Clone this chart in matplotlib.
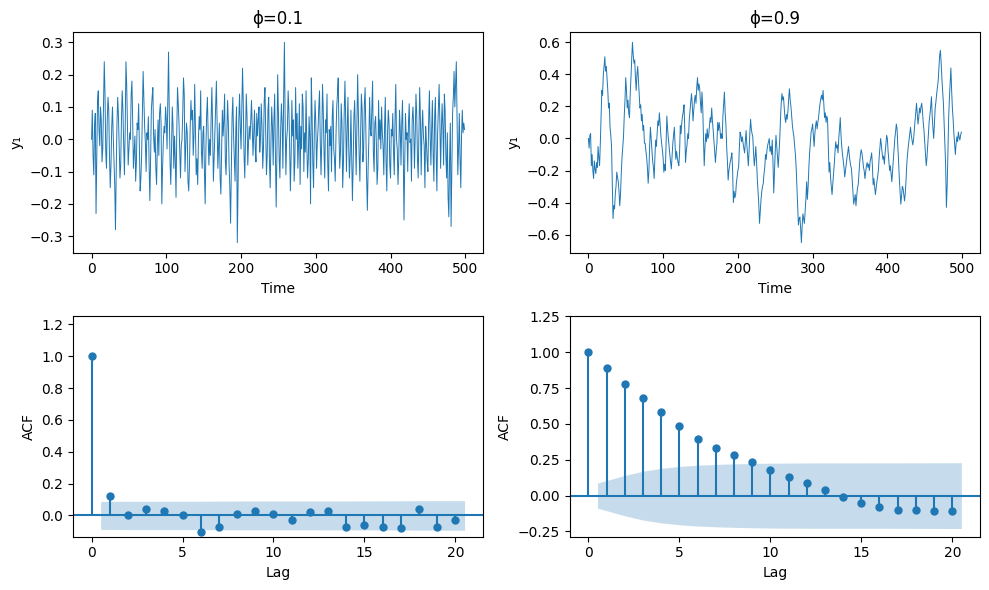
import matplotlib
matplotlib.use("Agg")
import matplotlib.pyplot as plt
import numpy as np

# simulated AR(1) paths, values in hundredths
y_phi01 = [
    0, 9, -5, -11, 4, 8, -23, -6, 12, 15,
    3, -2, 10, 6, -7, -3, 11, 24, 14, -4,
    -9, 6, 13, 9, -5, -15, -8, 4, 10, 1,
    -6, -14, -28, -10, 5, 13, 7, -3, -12, -8,
    6, 15, 9, -2, -11, 3, 24, 17, 4, -8,
    -3, 2, 0, 14, 18, 6, -9, -4, 1, -13,
    -7, 5, 3, 11, -2, -16, -12, -5, 8, 21,
    12, 4, -1, -10, 2, 0, 7, -8, -19, -6,
    9, 13, 16, 1, -4, 3, -9, -14, -2, 6,
    -5, 8, 11, 5, -20, -9, -1, 4, 2, 10,
    6, -3, 13, 27, 8, -7, -14, -3, 10, 4,
    -9, 1, -6, -18, 2, 16, 11, 5, -4, -12,
    -2, 0, 8, 19, 14, -10, -3, 5, 2, -13,
    -16, -8, 4, 12, 6, 9, -5, 1, 17, 3,
    -11, -6, -14, 0, 7, 3, 15, -4, -9, 2,
    4, -10, -20, -3, 8, 13, 1, -8, 0, -5,
    7, 16, 3, -13, -6, 2, 10, 18, 4, -9,
    -2, 5, -12, -17, -4, 9, 1, 6, 14, -7,
    -11, 2, 12, 5, -8, -15, -26, -9, 7, 13,
    1, -6, -13, 3, 10, -32, -15, 6, 14, 4,
    -3, 9, 22, 11, -5, -12, 2, 14, 7, -8,
    -1, 4, 0, 6, 12, 3, -5, 2, 9, -3,
    -7, 8, 1, 6, 10, -4, 0, 11, 4, -9,
    -3, 12, 16, 2, -11, -5, 9, 13, -7, -15,
    -1, 10, 4, -8, 6, 14, -5, -21, -4, 20,
    8, -6, -12, 3, 11, 5, -9, 13, 30, 6,
    -11, 0, 3, 15, 9, -2, -16, -5, 12, 1,
    6, -13, -7, 16, 0, 8, -9, -1, 11, -14,
    4, -3, 14, 10, -10, 2, -4, 15, -2, -12,
    -6, 7, 1, -20, 19, 8, -7, -15, 2, 12,
    5, -9, -1, 3, 10, 15, -1, -11, 0, 17,
    9, -4, -12, 6, 2, 14, -8, -16, 3, -2,
    4, -10, 7, 12, -3, -6, -13, 1, 10, 14,
    19, 2, -9, -4, 11, 5, -15, -7, 8, 18,
    6, -10, 3, 13, -2, -12, -5, 9, -6, -19,
    -8, 7, 12, 0, -11, 4, 20, 8, -5, -13,
    2, 14, 9, -7, -3, 11, 16, 1, -12, -22,
    -9, 0, 13, 3, 1, 10, 18, -4, -10, 5,
    7, -1, -14, -9, 12, 0, 6, -3, 10, 2,
    -2, -11, 4, 13, -7, -16, 2, 9, 5, -8,
    -12, 3, 1, 8, -4, -11, 6, 17, 0, -3,
    -14, -6, 9, 3, -8, 5, 12, -4, -25, -7,
    8, 0, 2, -10, 5, 11, -1, 0, -13, 6,
    10, 4, -9, 1, 14, 8, -6, -12, 3, 16,
    6, -11, 3, 9, 1, -2, -15, 4, -1, -7,
    -10, 6, 15, 1, -8, 3, 12, -5, -13, 7,
    13, -4, -16, 2, 10, 17, 5, -9, 3, 11,
    4, -8, 14, 9, -5, -12, 2, -18, -24, -6,
    5, -27, -9, 8, 13, 21, 10, 17, 24, 6,
    -11, -3, 8, -6, -15, 1, 9, 2, 5, 3,
]

y_phi09 = [
    0, -6, 2, 3, -17, -10, -20, -25, -14, -19,
    -22, -15, -18, -5, -12, -17, -3, 14, 30, 27,
    40, 45, 51, 42, 45, 38, 30, 19, 22, 7,
    2, -5, -28, -50, -42, -44, -35, -30, -21, -24,
    -27, -33, -42, -35, -22, -12, -5, 1, 14, 24,
    38, 30, 19, 24, 16, 13, 28, 38, 50, 60,
    52, 47, 49, 38, 30, 40, 45, 36, 28, 19,
    21, 11, 15, 5, 8, -3, -3, -8, -12, -18,
    -28, -20, -5, 7, 0, -6, -14, -18, -25, -12,
    -1, -5, 3, 11, 8, 16, 9, 2, -3, -7,
    -12, -21, -16, -20, -2, 14, 6, 0, -5, -10,
    -15, -19, -11, -3, 2, 7, -4, -13, -8, -12,
    -15, -17, -9, 8, 3, 10, 14, 17, 21, 5,
    -15, -8, -4, 3, 0, 12, 17, 23, 28, 21,
    11, 18, 24, 27, 22, 32, 38, 30, 34, 31,
    22, 16, 29, 20, 0, -17, -5, 3, -2, 6,
    0, 2, 8, 13, 10, 19, 11, 5, -2, -8,
    -15, -8, -3, 10, 5, 10, 6, 0, 3, 0,
    14, 22, 29, 16, 9, -5, -14, -26, -20, -17,
    -14, -12, -9, -20, -40, -33, -37, -35, -28, -24,
    -20, -18, -6, 4, 2, -2, 1, -3, -6, -9,
    -2, 5, -4, -10, -17, -8, 3, 12, 6, 3,
    1, -9, -17, -12, -5, -14, -25, -33, -41, -53,
    -45, -38, -33, -30, -28, -22, -18, -10, -13, -7,
    -4, -2, 0, -8, -5, -10, -1, -15, -34, -20,
    -8, 2, -5, -12, -18, -9, -1, 12, 22, 28,
    24, 26, 19, 13, 10, 15, 12, 17, 25, 31,
    24, 20, 14, 8, 4, 1, -5, -10, -18, -30,
    -42, -54, -50, -49, -56, -65, -55, -47, -50, -53,
    -45, -38, -27, -38, -30, -18, -9, -2, 4, 6,
    9, 2, -5, 3, 8, 11, 6, 10, 13, 18,
    22, 25, 27, 24, 30, 21, 13, 16, 10, 14,
    12, -5, -21, -15, -24, -30, -35, -28, -22, -16,
    -8, -2, -6, -4, -9, 0, 6, 13, 2, -5,
    -10, -14, -18, -24, -20, -16, -12, -9, -5, -10,
    -14, -17, -19, -26, -33, -41, -38, -35, -42, -36,
    -31, -29, -22, -15, -10, -7, -9, -13, -18, -20,
    -25, -21, -17, -15, -18, -16, -20, -14, -12, -9,
    -17, -29, -25, -30, -35, -31, -27, -24, -20, -12,
    -6, 0, -4, -9, -13, -11, -16, -9, -4, 2,
    0, -8, -14, -20, -17, -22, -27, -20, -12, -5,
    0, 4, 9, 6, -5, -14, -25, -33, -41, -36,
    -30, -31, -35, -39, -34, -26, -16, -10, -5, -1,
    3, 7, 2, -1, -4, -1, 5, 11, 16, 22,
    15, 9, 13, 19, 16, 20, 22, 17, 10, 5,
    -2, -10, -17, -12, -4, 5, 11, 15, 20, 26,
    14, 6, 0, 10, 19, 23, 28, 32, 36, 44,
    52, 55, 47, 37, 30, 22, 9, -5, -17, -43,
    -30, -10, 13, 25, 35, 44, 30, 19, 12, 3,
    -4, -10, -3, 1, -2, 4, 1, -1, 2, 4,
]

acf_phi01 = [1.00, 0.125, 0.00, 0.04, 0.025, 0.00, -0.107, -0.07, 0.01, 0.03,
             0.01, -0.03, 0.02, 0.03, -0.07, -0.06, -0.07, -0.08, 0.04, -0.07, -0.03]
acf_phi09 = [1.00, 0.888, 0.777, 0.68, 0.582, 0.484, 0.393, 0.331, 0.282, 0.233,
             0.18, 0.13, 0.09, 0.04, -0.01, -0.05, -0.08, -0.10, -0.10, -0.11, -0.11]
n_obs = 500

titles = ["\u03d5=0.1", "\u03d5=0.9"]


def plot_acf(ax, acf):
    acf = np.asarray(acf)
    lags = np.arange(len(acf))
    # Bartlett band around zero
    se = np.sqrt((1 + 2 * np.concatenate([[0], np.cumsum(acf[1:-1] ** 2)])) / n_obs)
    band = 1.96 * se
    ax.vlines(lags, 0, acf, color="C0", linewidth=1.5)
    ax.axhline(0, color="C0", linewidth=1.5)
    ax.plot(lags, acf, "o", color="C0", markersize=5)
    xs = lags[1:].astype(float)
    xs[0] -= 0.5
    xs[-1] += 0.5
    ax.fill_between(xs, -band, band, color="C0", alpha=0.25, linewidth=0)
    lo = min(acf.min(), -band.max())
    hi = max(acf.max(), band.max())
    ax.set_ylim(1.25 * lo, 1.25 * hi)
    ax.set_xlabel("Lag")
    ax.set_ylabel("ACF")


fig, axes = plt.subplots(2, 2, figsize=(10, 6), dpi=100)

for ax, series, title in zip(axes[0], [y_phi01, y_phi09], titles):
    y = np.asarray(series) / 100
    ax.plot(np.arange(len(y)), y, color="C0", linewidth=0.7)
    ax.set_title(title)
    ax.set_xlabel("Time")
    ax.set_ylabel("y\u2081")

axes[0, 0].set_yticks(np.arange(-0.3, 0.31, 0.1))
axes[0, 1].set_yticks(np.arange(-0.6, 0.61, 0.2))

plot_acf(axes[1, 0], acf_phi01)
plot_acf(axes[1, 1], acf_phi09)

fig.tight_layout()
fig.savefig("out.png", dpi=100, bbox_inches="tight")
